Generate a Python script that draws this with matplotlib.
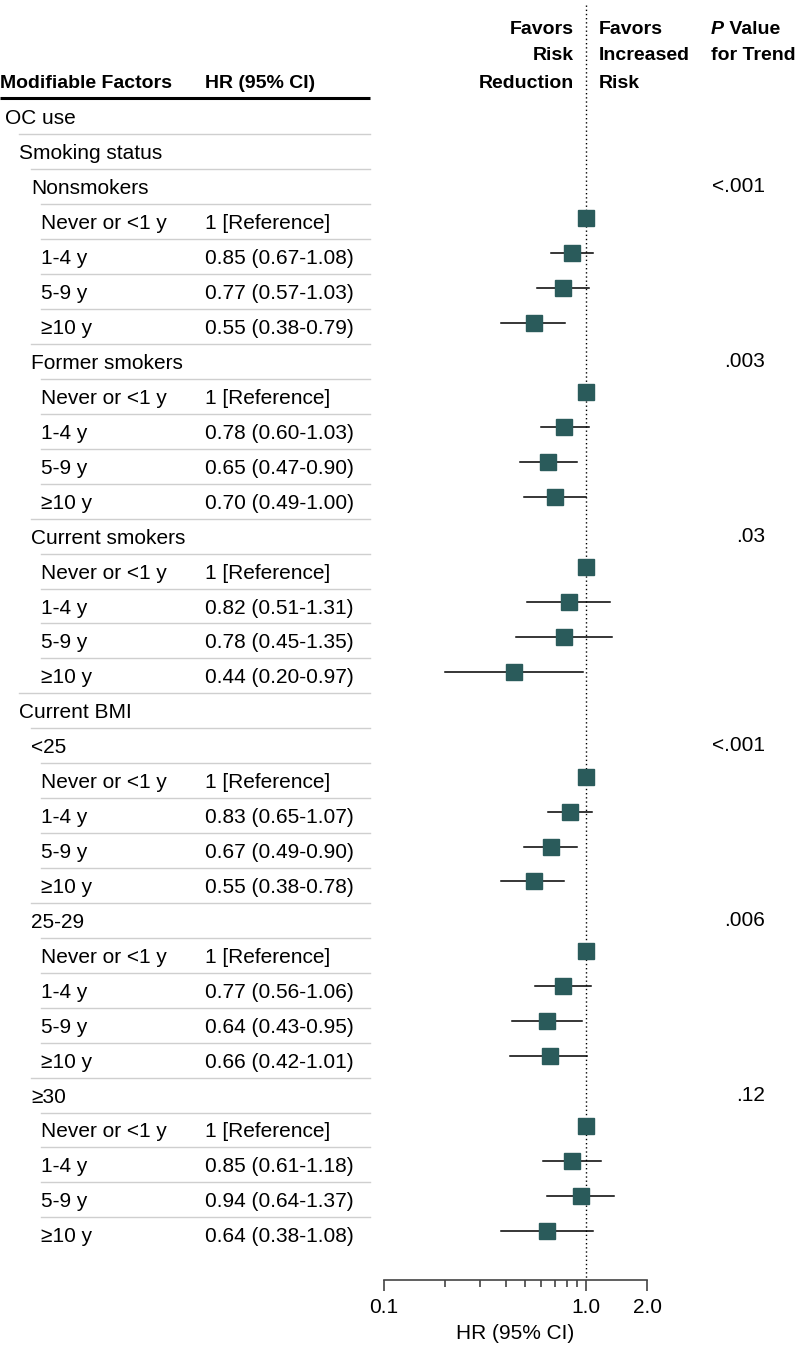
import matplotlib
matplotlib.use('Agg')
import matplotlib.pyplot as plt
from matplotlib.ticker import FixedLocator, NullFormatter

plt.rcParams['font.family'] = ['Liberation Sans Narrow', 'Liberation Sans', 'DejaVu Sans']

# data
groups = ['Nonsmokers', 'Former smokers', 'Current smokers', '<25', '25-29', '≥30']
periods = ['Never or <1 y', '1-4 y', '5-9 y', '≥10 y']
hr_vals = [
    [1, 0.85, 0.77, 0.55],
    [1, 0.78, 0.65, 0.70],
    [1, 0.82, 0.78, 0.44],
    [1, 0.83, 0.67, 0.55],
    [1, 0.77, 0.64, 0.66],
    [1, 0.85, 0.94, 0.64],
]
ci_low = [
    [None, 0.67, 0.57, 0.38],
    [None, 0.60, 0.47, 0.49],
    [None, 0.51, 0.45, 0.20],
    [None, 0.65, 0.49, 0.38],
    [None, 0.56, 0.43, 0.42],
    [None, 0.61, 0.64, 0.38],
]
ci_high = [
    [None, 1.08, 1.03, 0.79],
    [None, 1.03, 0.90, 1.00],
    [None, 1.31, 1.35, 0.97],
    [None, 1.07, 0.90, 0.78],
    [None, 1.06, 0.95, 1.01],
    [None, 1.18, 1.37, 1.08],
]
p_trend = ['<.001', '.003', '.03', '<.001', '.006', '.12']
x_ticks = [0.1, 1.0, 2.0]
x_ticklabels = ['0.1', '1.0', '2.0']

W, H = 798, 1365
FS = 15
FSB = 14
SQ = '#2a5b5b'


def build_rows():
    rows = [('OC use', 0, None), ('Smoking status', 1, None)]
    for gi, g in enumerate(groups):
        if gi == 3:
            rows.append(('Current BMI', 1, None))
        rows.append((g, 2, ('p', gi)))
        for pi, p in enumerate(periods):
            rows.append((p, 3, ('d', gi, pi)))
    return rows


def main():
    rows = build_rows()
    indent = [5, 19, 31, 41]
    y0, dy = 117, 34.93
    ys = [y0 + i * dy for i in range(len(rows))]

    fig = plt.figure(figsize=(W / 100, H / 100), dpi=100)
    ax_t = fig.add_axes([0, 0, 1, 1])
    ax_t.set_xlim(0, W)
    ax_t.set_ylim(H, 0)
    ax_t.axis('off')

    y_axis = 1280
    x01, x2 = 384, 647
    ax_f = fig.add_axes([x01 / W, (H - y_axis) / H, (x2 - x01) / W, y_axis / H])
    ax_f.patch.set_alpha(0)
    ax_f.set_xscale('log')
    ax_f.set_xlim(0.1, 2.0)
    ax_f.set_ylim(y_axis, 0)

    # headers
    ax_t.text(0, 83, 'Modifiable Factors', fontsize=FSB, fontweight='bold', va='center')
    ax_t.text(205, 83, 'HR (95% CI)', fontsize=FSB, fontweight='bold', va='center')
    ax_t.plot([0, 370], [98, 98], color='black', lw=2.2, solid_capstyle='butt')
    for i, t in enumerate(['Favors', 'Risk', 'Reduction']):
        ax_t.text(574, 29 + i * 27, t, fontsize=FSB, fontweight='bold', va='center', ha='right')
    for i, t in enumerate(['Favors', 'Increased', 'Risk']):
        ax_t.text(599, 29 + i * 27, t, fontsize=FSB, fontweight='bold', va='center', ha='left')
    pt = ax_t.text(711, 29, 'P', fontsize=FSB, fontweight='bold', fontstyle='italic', va='center')
    fig.canvas.draw()
    bb = pt.get_window_extent().transformed(ax_t.transData.inverted())
    ax_t.text(bb.x1, 29, ' Value', fontsize=FSB, fontweight='bold', va='center')
    ax_t.text(711, 56, 'for Trend', fontsize=FSB, fontweight='bold', va='center')

    for i, (label, lvl, info) in enumerate(rows):
        y = ys[i]
        ax_t.text(indent[lvl], y + 2, label, fontsize=FS, va='center')
        if i + 1 < len(rows):
            nxt = indent[rows[i + 1][1]]
            ax_t.plot([nxt, 370], [y + dy / 2] * 2, color='#cfcfcf', lw=1)
        if info is None:
            continue
        if info[0] == 'p':
            ax_t.text(765, y, p_trend[info[1]], fontsize=FS, va='center', ha='right')
            continue
        gi, pi = info[1], info[2]
        hr, lo, hi = hr_vals[gi][pi], ci_low[gi][pi], ci_high[gi][pi]
        ym = y - 4
        if lo is None:
            txt = '1 [Reference]'
        else:
            txt = '%.2f (%.2f-%.2f)' % (hr, lo, hi)
            ax_f.plot([lo, hi], [ym, ym], color='black', lw=1.1, zorder=2)
        ax_t.text(205, y + 2, txt, fontsize=FS, va='center')
        ax_f.plot([hr], [ym], marker='s', ms=11, color=SQ, mec=SQ, ls='none', zorder=3)

    ax_f.vlines(1.0, 5, y_axis, colors='black', linestyles=(0, (1, 2)), lw=1, zorder=1)

    for s in ['top', 'right', 'left']:
        ax_f.spines[s].set_visible(False)
    ax_f.spines['bottom'].set_color('#444444')
    ax_f.spines['bottom'].set_linewidth(1.2)
    ax_f.set_yticks([])
    ax_f.xaxis.set_major_locator(FixedLocator(x_ticks))
    ax_f.set_xticklabels(x_ticklabels, fontsize=FS)
    ax_f.xaxis.set_minor_locator(FixedLocator([0.2, 0.3, 0.4, 0.5, 0.6, 0.7, 0.8, 0.9]))
    ax_f.xaxis.set_minor_formatter(NullFormatter())
    ax_f.tick_params(axis='x', which='major', length=8, width=1.2, color='#444444', pad=5)
    ax_f.tick_params(axis='x', which='minor', length=5, width=1.2, color='#444444')
    ax_f.set_xlabel('HR (95% CI)', fontsize=FS, labelpad=5)

    fig.savefig('out.png', dpi=100)


if __name__ == '__main__':
    main()
